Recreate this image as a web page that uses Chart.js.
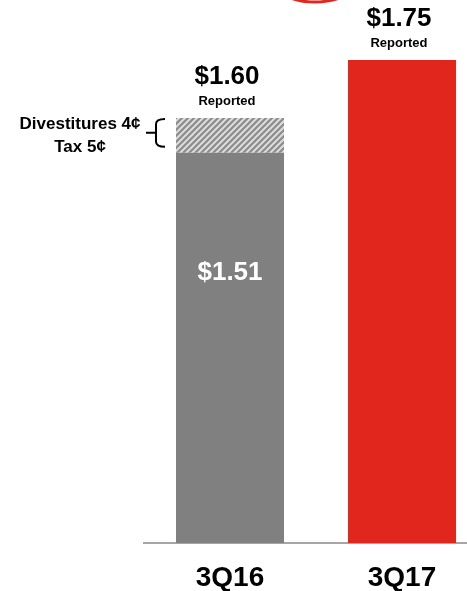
<!DOCTYPE html>
<html>
<head>
<meta charset="utf-8">
<script src="https://cdn.jsdelivr.net/npm/chart.js@4.4.0/dist/chart.umd.min.js"></script>
<style>
  html, body { margin: 0; padding: 0; background: #fff; overflow: hidden; }
</style>
</head>
<body>
<canvas id="eps" width="467" height="591"></canvas>
<script>
const quarters = ['3Q16', '3Q17'];
const adjusted = [1.51, null];
const oneTime = [0.09, null]; // divestitures 4c + tax 5c
const reported = [null, 1.75];
const reportedTotals = [1.60, 1.75];
const topLabels = ['$1.60', '$1.75'];
const insideLabels = ['$1.51', ''];
const noteLines = ['Divestitures 4\u00a2', 'Tax 5\u00a2'];

const FONT = '"Liberation Sans", Arial, Helvetica, sans-serif';
const RED = '#e1271d';
const GREY = '#808080';

// quarters sit on a numeric x axis so the two bars can be placed like the slide
const toPoints = arr => arr.map((v, i) => ({ x: i, y: v })).filter(p => p.y !== null);

// diagonal hatch for the one-time items
function makeHatch() {
  const s = 6;
  const c = document.createElement('canvas');
  c.width = s; c.height = s;
  const g = c.getContext('2d');
  g.fillStyle = '#dcdcdc';
  g.fillRect(0, 0, s, s);
  g.strokeStyle = '#8c8c8c';
  g.lineWidth = 2.2;
  g.beginPath();
  g.moveTo(0, s); g.lineTo(s, 0);
  g.moveTo(-1, 1); g.lineTo(1, -1);
  g.moveTo(s - 1, s + 1); g.lineTo(s + 1, s - 1);
  g.stroke();
  return g.createPattern(c, 'repeat');
}

const labelsPlugin = {
  id: 'labels',
  afterDatasetsDraw(chart) {
    const ctx = chart.ctx;
    const x = chart.scales.x, y = chart.scales.y;
    ctx.save();
    ctx.textAlign = 'center';
    ctx.textBaseline = 'middle';

    quarters.forEach((q, i) => {
      const cx = x.getPixelForValue(i) - 3;
      const top = y.getPixelForValue(reportedTotals[i]);
      ctx.fillStyle = '#000';
      ctx.font = 'bold 26px ' + FONT;
      ctx.fillText(topLabels[i], cx, top - 41);
      ctx.font = 'bold 13px ' + FONT;
      ctx.fillText('Reported', cx, top - 17);
      if (insideLabels[i]) {
        ctx.fillStyle = '#fff';
        ctx.font = 'bold 26px ' + FONT;
        ctx.fillText(insideLabels[i], cx + 3, y.getPixelForValue(1.2));
      }
    });

    // note + brace next to the hatched piece
    const hTop = y.getPixelForValue(adjusted[0] + oneTime[0]);
    const hBot = y.getPixelForValue(adjusted[0]);
    ctx.fillStyle = '#000';
    ctx.font = 'bold 17px ' + FONT;
    ctx.fillText(noteLines[0], 80, hTop + 6);
    ctx.fillText(noteLines[1], 80, hTop + 29);

    const bt = hTop + 1, bb = hBot - 6, mid = (bt + bb) / 2, vx = 156;
    ctx.strokeStyle = '#000';
    ctx.lineWidth = 2;
    ctx.beginPath();
    ctx.moveTo(165, bt);
    ctx.quadraticCurveTo(vx, bt, vx, bt + 5);
    ctx.lineTo(vx, bb - 5);
    ctx.quadraticCurveTo(vx, bb, 165, bb);
    ctx.moveTo(146, mid);
    ctx.lineTo(vx, mid);
    ctx.stroke();

    // bit of the red circle that is cut off at the top
    ctx.strokeStyle = RED;
    ctx.lineWidth = 3;
    ctx.beginPath();
    ctx.ellipse(315, -22, 44, 24, 0, 0, Math.PI * 2);
    ctx.stroke();
    ctx.restore();
  }
};

new Chart(document.getElementById('eps'), {
  type: 'bar',
  data: {
    datasets: [
      { data: toPoints(adjusted), backgroundColor: GREY },
      { data: toPoints(oneTime), backgroundColor: makeHatch() },
      { data: toPoints(reported), backgroundColor: RED }
    ]
  },
  options: {
    responsive: false,
    animation: false,
    categoryPercentage: 1,
    barPercentage: 0.628,
    layout: { padding: { left: 144, right: 0, top: 2, bottom: 0 } },
    plugins: { legend: { display: false }, tooltip: { enabled: false } },
    scales: {
      x: {
        type: 'linear',
        offset: false,
        stacked: true,
        min: -0.5,
        max: 1.378,
        afterBuildTicks(s) { s.ticks = quarters.map((q, i) => ({ value: i })); },
        grid: { display: false, drawTicks: false },
        border: { color: '#a6a6a6', width: 2 },
        ticks: {
          color: '#000',
          padding: 18,
          maxRotation: 0,
          autoSkip: false,
          font: { family: FONT, size: 28, weight: 'bold' },
          callback: v => quarters[v]
        },
        afterFit(s) { s.height = 48; }
      },
      y: {
        stacked: true,
        display: false,
        min: 0.5,
        max: 1.9
      }
    }
  },
  plugins: [labelsPlugin]
});
</script>
</body>
</html>
